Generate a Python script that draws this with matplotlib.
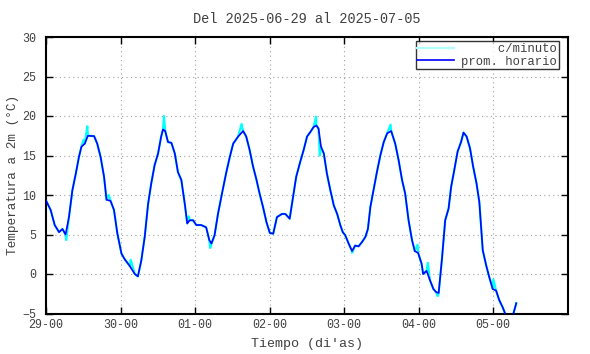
import matplotlib
matplotlib.use("Agg")
import matplotlib.pyplot as plt
import numpy as np

# ---- data (hours since 2025-06-29 00:00, temperature degC) ----
hourly_hours = [0.0, 1.5, 2.8, 4.2, 5.3, 6.3, 7.4, 8.5, 9.6, 10.6, 11.4, 12.5, 13.5, 15.5,
                16.5, 17.6, 18.7, 19.5, 20.8, 21.9, 23.0, 24.3, 25.3, 27.0, 28.6, 29.6,
                30.7, 31.8, 32.9, 33.9, 35.0, 36.1, 37.1, 37.7, 38.4, 39.3, 40.4, 41.5,
                42.5, 43.6, 44.7, 45.5, 46.3, 47.4, 48.4, 50.0, 51.6, 52.6, 53.3, 54.3,
                55.4, 56.8, 58.1, 59.2, 60.3, 61.9, 63.5, 64.5, 65.6, 66.7, 67.7, 68.8,
                69.9, 71.0, 72.1, 73.2, 74.4, 76.0, 77.1, 78.5, 79.6, 80.6, 81.9, 83.0,
                84.1, 85.2, 86.2, 87.1, 87.8, 88.6, 89.5, 90.5, 91.6, 92.7, 93.8, 94.8,
                95.6, 96.4, 97.5, 98.6, 99.6, 100.7, 101.8, 102.9, 103.7, 104.5, 105.6,
                106.6, 107.7, 108.8, 109.9, 111.2, 112.5, 113.6, 114.7, 115.7, 116.8,
                117.9, 118.8, 119.9, 121.0, 121.5, 122.6, 123.7, 124.8, 125.7, 126.5,
                127.6, 128.6, 129.7, 130.5, 131.5, 132.6, 133.7, 134.5, 135.5, 136.6,
                137.6, 138.7, 139.6, 140.7, 141.8, 142.8, 143.9, 145.0, 146.0, 147.1,
                148.2, 149.3, 150.3, 151.5]
hourly_temp = [9.3, 8.1, 6.2, 5.3, 5.7, 5.0, 7.2, 10.6, 12.7, 14.8, 16.1, 16.5, 17.5, 17.45,
               16.5, 14.8, 12.3, 9.4, 9.25, 8.1, 5.1, 2.6, 1.9, 1.0, 0.0, -0.3,
               1.7, 4.7, 8.9, 11.45, 13.8, 15.25, 17.4, 18.3, 18.1, 16.7, 16.6, 15.25,
               12.9, 11.9, 8.9, 6.4, 6.8, 6.8, 6.2, 6.2, 5.9, 4.3, 3.85, 4.9,
               7.6, 10.4, 12.9, 14.8, 16.5, 17.4, 18.1, 17.4, 15.7, 13.6, 12.1, 10.2,
               8.5, 6.6, 5.2, 5.1, 7.2, 7.6, 7.6, 7.0, 9.75, 12.3, 14.2, 15.7,
               17.4, 18.0, 18.6, 18.8, 18.4, 16.1, 15.25, 12.7, 10.6, 8.7, 7.6, 6.2,
               5.3, 4.9, 3.85, 2.9, 3.6, 3.5, 4.05, 4.7, 5.7, 8.5, 10.8,
               12.9, 15.0, 16.7, 17.8, 18.1, 16.5, 14.4, 11.9, 10.2, 6.8,
               4.3, 2.9, 2.65, 1.3, 0.0, 0.4, -0.8, -1.9, -2.3, -2.4,
               2.1, 6.8, 8.3, 11.0, 13.1, 15.5, 16.7, 17.9, 17.4, 15.9,
               13.6, 11.45, 9.1, 3.0, 1.1, -0.4, -1.9, -2.1, -3.3, -4.2,
               -5.3, -6.0, -5.4, -3.7]

# per-minute excursions visible in the cyan trace
minute_spike_hours = [6.5, 12.1, 13.3, 20.2, 27.3, 38.0, 46.0, 52.9, 63.0, 87.0, 88.2,
                      92.0, 98.6, 111.0, 119.7, 123.0, 126.2, 144.1]
minute_spike_temp = [4.3, 17.0, 18.7, 10.0, 1.8, 20.0, 7.3, 3.3, 19.0, 19.9, 15.0,
                     10.0, 2.7, 18.9, 3.7, 1.4, -2.8, -0.7]

xtick_labels = ["29-00", "30-00", "01-00", "02-00", "03-00", "04-00", "05-00"]
ytick_values = [-5, 0, 5, 10, 15, 20, 25, 30]

# ---- build cyan series (hourly points + visible minute excursions) ----
mh = np.array(hourly_hours + minute_spike_hours)
mt = np.array(hourly_temp + minute_spike_temp)
order = np.argsort(mh)
mh, mt = mh[order], mt[order]

TXT = "#404040"
FONT = ["Liberation Mono", "DejaVu Sans Mono"]
plt.rcParams["font.family"] = FONT

fig = plt.figure(figsize=(5.9, 3.54), dpi=100)
ax = fig.add_axes([46/590, 1 - 313.5/354, (567.5 - 46)/590, (313.5 - 37)/354])

ax.plot(mh, mt, color="#00ffff", lw=1.6, label="     c/minuto", zorder=2)
ax.plot(hourly_hours, hourly_temp, color="#0000ff", lw=1.2, label="prom. horario", zorder=3)

ax.set_xlim(0, 168)
ax.set_ylim(-5, 30)
ax.set_xticks([24 * i for i in range(len(xtick_labels))])
ax.set_xticklabels(xtick_labels)
ax.set_yticks(ytick_values)
ax.tick_params(direction="in", length=5, width=1, top=True, right=True,
               labelsize=8.4, labelcolor=TXT)
ax.tick_params(axis="y", pad=7)
ax.tick_params(axis="x", pad=4)
ax.grid(True, color="#a0a0a0", linestyle=(0, (1, 3)), linewidth=0.8)
for s in ax.spines.values():
    s.set_linewidth(1.5)
    s.set_color("black")

ax.set_title("Del 2025-06-29 al 2025-07-05", fontsize=9.8, color=TXT, pad=10)
ax.set_xlabel("Tiempo (di'as)", fontsize=9.6, color=TXT, labelpad=5)
ax.set_ylabel("Temperatura a 2m (°C)", fontsize=9.2, color=TXT, labelpad=2)

leg = ax.legend(loc="upper right", bbox_to_anchor=(0.984, 0.985), fontsize=8.8,
                frameon=True, fancybox=False, handlelength=3.0, handletextpad=0.6,
                borderpad=0.15, labelspacing=0.05, borderaxespad=0)
leg.get_frame().set_edgecolor("black")
leg.get_frame().set_linewidth(1.0)
leg.legend_handles[0].set_color("#b0ffff")
for t in leg.get_texts():
    t.set_color(TXT)

fig.savefig("out.png", dpi=100)
